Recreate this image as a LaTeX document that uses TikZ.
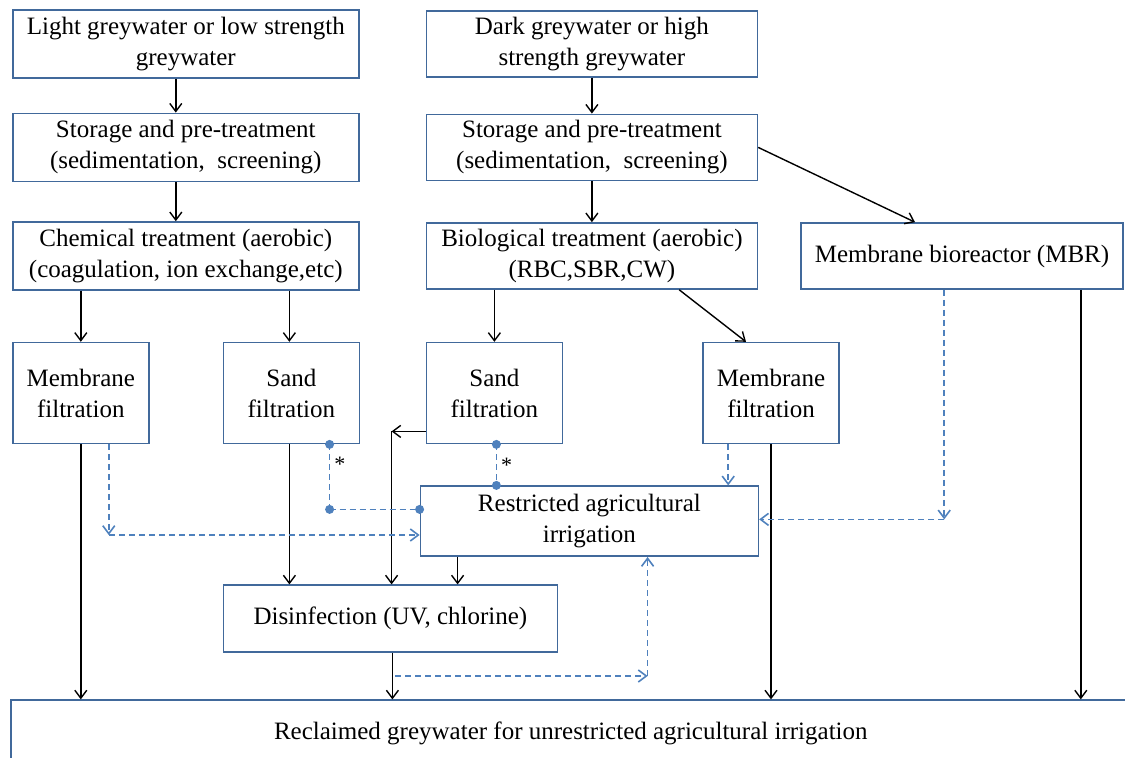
\documentclass[tikz,border=0pt]{standalone}
\usepackage{fontspec}
\setmainfont{Liberation Serif}
\usepackage{xcolor}
\usetikzlibrary{positioning,arrows.meta,calc}
\definecolor{boxblue}{RGB}{65,105,155}
\definecolor{dashblue}{RGB}{79,129,189}

\begin{document}
\begin{tikzpicture}[
        font=\fontsize{12.5}{15.5}\selectfont,
        box/.style={draw=boxblue, line width=0.8pt, align=center, inner sep=2pt},
        lbox/.style={box, minimum width=173pt, minimum height=34pt},
        rbox/.style={box, minimum width=165.5pt, minimum height=33pt},
        fbox/.style={box, minimum width=68pt, minimum height=50.5pt},
        flow/.style={-{Straight Barb[length=4pt,width=6pt]}, line width=0.7pt},
        link/.style={-{Straight Barb[length=4pt,width=6pt]}, dashblue, line width=0.8pt,
                     dash pattern=on 3pt off 2pt},
        plink/.style={dashblue, line width=0.8pt, dash pattern=on 3pt off 2pt},
        dot/.style={circle, fill=dashblue, inner sep=0pt, minimum size=4.5pt},
        star/.style={text=black, inner sep=0pt, font=\fontsize{11}{11}\selectfont},
        node distance=17pt and 33pt
    ]
    \useasboundingbox (0,0) rectangle (562.5pt,-379pt);

    % ---- Light greywater line ----
    \node[lbox, anchor=north west] (lightgw) at (6pt,-4.5pt) {Light greywater or low strength\\greywater};
    \node[lbox, below=of lightgw] (storL) {Storage and pre-treatment\\(sedimentation,\ \ screening)};
    \node[lbox, below=19.5pt of storL] (chem) {Chemical treatment (aerobic)\\(coagulation, ion exchange,etc)};
    \node[fbox, below=25.5pt of chem.south west, anchor=north west] (memL) {Membrane\\filtration};
    \node[fbox, right=36.5pt of memL] (sandL) {Sand\\filtration};

    % ---- Dark greywater line ----
    \node[rbox, right=of lightgw] (darkgw) {Dark greywater or high\\strength greywater};
    \node[rbox, below=18pt of darkgw] (storR) {Storage and pre-treatment\\(sedimentation,\ \ screening)};
    \node[rbox, below=20.5pt of storR] (bio) {Biological treatment (aerobic)\\(RBC,SBR,CW)};
    \node[box, minimum width=161pt, minimum height=33pt, right=21pt of bio] (mbr) {Membrane bioreactor (MBR)};
    \node[fbox, below=26pt of bio.south west, anchor=north west] (sandR) {Sand\\filtration};
    \node[fbox, right=69.5pt of sandR] (memR) {Membrane\\filtration};

    % ---- Reuse ----
    \node[box, minimum width=169pt, minimum height=35pt, below=20.5pt of sandR.south west,
          anchor=north west, xshift=-3pt] (restr) {Restricted agricultural\\irrigation};
    \node[box, minimum width=167pt, minimum height=33.5pt, below=70pt of sandL.south west,
          anchor=north west] (disinf) {Disinfection (UV, chlorine)};
    \node[box, minimum width=560pt, minimum height=33pt, anchor=north west] (reclaim)
        at ([xshift=-1pt,yshift=-127.5pt]memL.south west) {Reclaimed greywater for unrestricted agricultural irrigation};

    % ---- Treatment flow ----
    \draw[flow] ([xshift=-5pt]lightgw.south) -- ([xshift=-5pt]storL.north);
    \draw[flow] ([xshift=-5pt]storL.south) -- ([xshift=-5pt]chem.north);
    \draw[flow] (darkgw) -- (storR);
    \draw[flow] (storR) -- (bio);
    \draw[flow] (storR.east) -- ([xshift=-23.5pt]mbr.north);
    \draw[flow] (memL.north |- chem.south) -- (memL);
    \draw[flow] ([xshift=-1pt]sandL.north |- chem.south) -- ([xshift=-1pt]sandL.north);
    \draw[flow] (sandR.north |- bio.south) -- (sandR);
    \draw[flow] ([xshift=-39.5pt]bio.south east) -- ([xshift=-12.5pt]memR.north);

    % ---- To disinfection and reclaimed ----
    \coordinate (sRcorner) at ([xshift=-17pt,yshift=6.5pt]sandR.south west);
    \draw[flow] (sandR.west |- sRcorner) -- (sRcorner);
    \draw[flow] (sRcorner) -- (sRcorner |- disinf.north);
    \draw[flow] ([xshift=-1pt]sandL.south) -- ([xshift=-1pt]sandL.south |- disinf.north);
    \draw[flow] ([xshift=19pt]restr.south west) -- ([xshift=19pt]restr.south west |- disinf.north);
    \draw[flow] ([xshift=1pt]disinf.south) -- ([xshift=1pt]disinf.south |- reclaim.north);
    \draw[flow] (memL) -- (memL |- reclaim.north);
    \draw[flow] (memR) -- (memR |- reclaim.north);
    \draw[flow] ([xshift=-21.5pt]mbr.south east) -- ([xshift=-21.5pt]mbr.south east |- reclaim.north);

    % ---- Links to restricted irrigation ----
    \coordinate (mLdrop) at ([xshift=14pt]memL.south);
    \coordinate (rWlow) at ([yshift=11pt]restr.south west);
    \draw[link] (mLdrop) -- (mLdrop |- rWlow);
    \draw[link] (mLdrop |- rWlow) -- (rWlow);

    \coordinate (rWhigh) at ([yshift=-12pt]restr.north west);
    \node[dot] (dotL1) at ([xshift=53.5pt]sandL.south west) {};
    \node[dot] (dotL2) at (dotL1 |- rWhigh) {};
    \node[dot] (dotL3) at (rWhigh) {};
    \draw[plink] (dotL1.center) -- (dotL2.center) node[star, pos=0.3, right=2pt] (astL) {*};
    \draw[plink] (dotL2.center) -- (dotL3.center);

    \node[dot] (dotR1) at ([xshift=1pt]sandR.south) {};
    \node[dot] (dotR2) at (dotR1 |- restr.north) {};
    \draw[plink] (dotR1.center) -- (dotR2.center) node[star, midway, right=2pt] (astR) {*};

    \draw[link] ([xshift=13pt]memR.south west) -- ([xshift=13pt]memR.south west |- restr.north);

    \coordinate (mbrdrop) at ([xshift=72pt]mbr.south west);
    \coordinate (rEast) at ([yshift=-17pt]restr.north east);
    \draw[link] (mbrdrop) -- (mbrdrop |- rEast);
    \draw[link] (mbrdrop |- rEast) -- (rEast);

    \coordinate (dRun) at ([xshift=2.5pt,yshift=-11.5pt]disinf.south);
    \coordinate (rUp) at ([xshift=114pt]restr.south west);
    \draw[link] (dRun) -- (rUp |- dRun);
    \draw[link] (rUp |- dRun) -- (rUp);
\end{tikzpicture}
\end{document}
